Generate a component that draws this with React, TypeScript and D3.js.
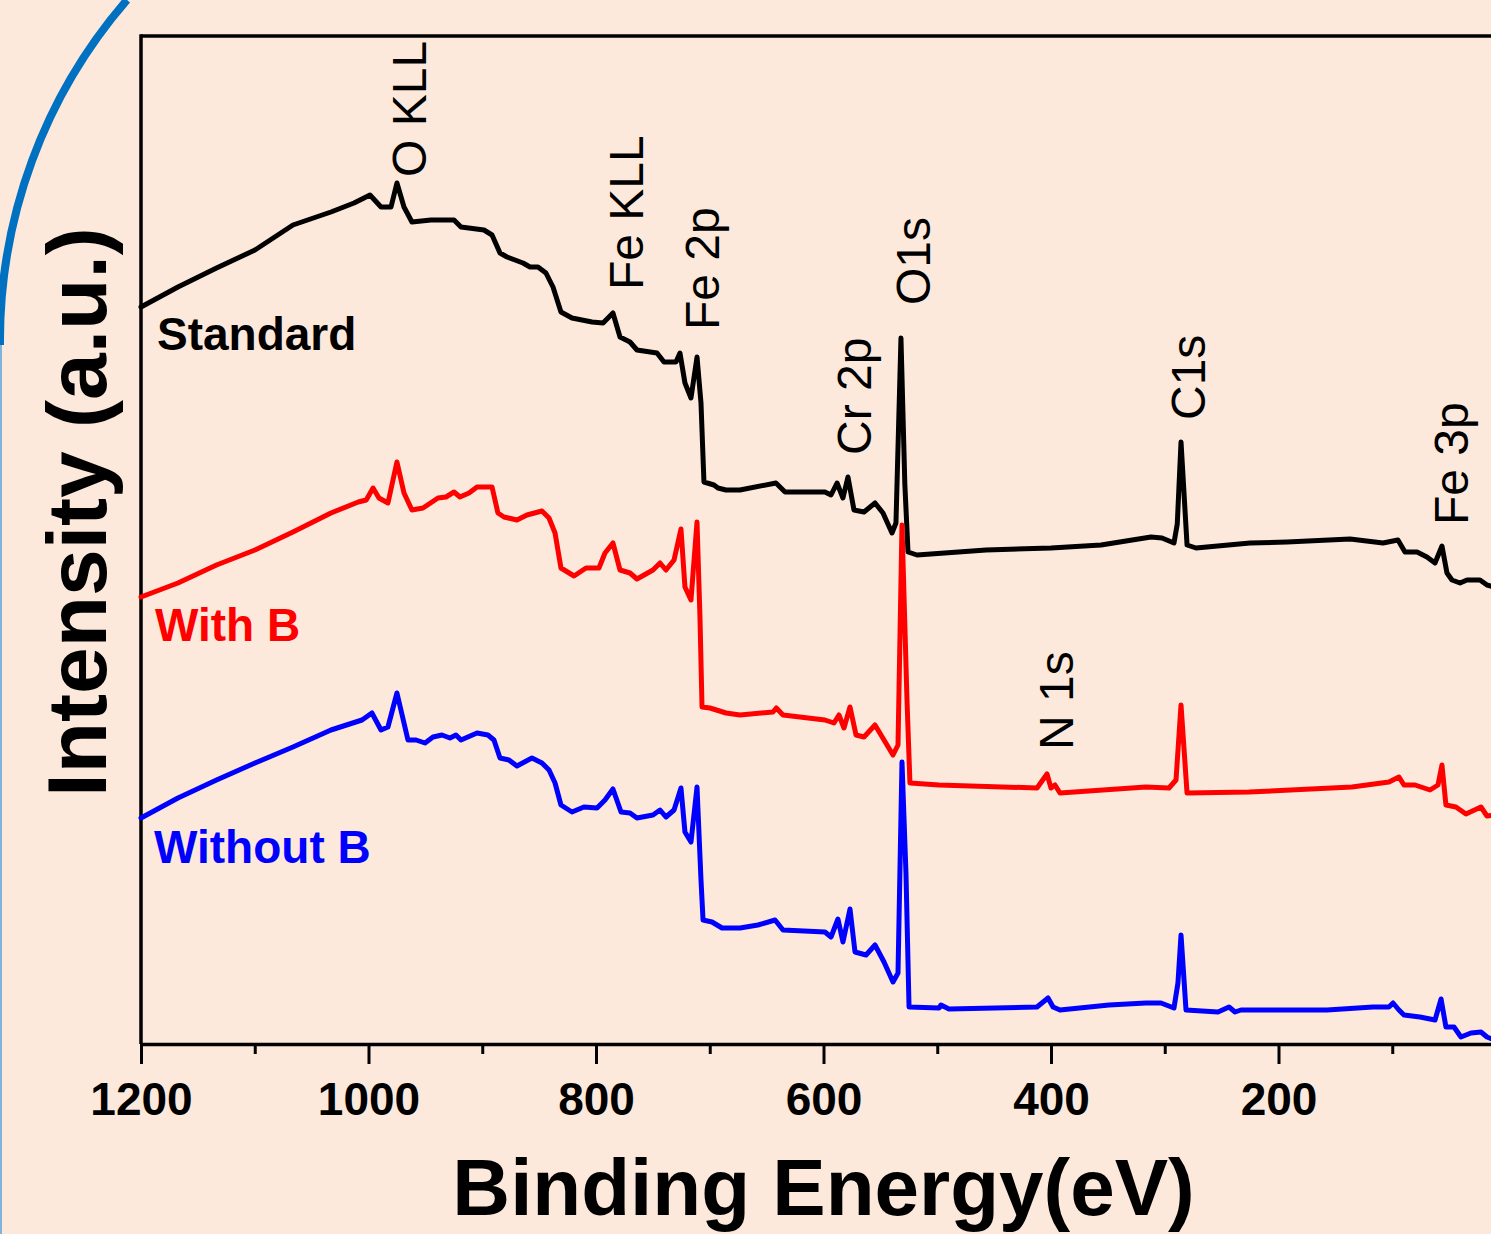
import React, { useEffect, useRef } from "react";
import * as d3 from "d3";

// Binding energy (eV) vs intensity (a.u.)
const standardSeries: [number, number][] = [
  [1200, 737], [1167.5, 757], [1133.6, 776], [1099.8, 794], [1066.4, 819], [1033, 832],
  [1012.7, 841], [998.7, 849], [989, 837], [980.2, 837], [975, 861], [968.8, 837],
  [961.8, 822], [945.1, 824], [924.8, 824], [918.7, 817], [898.5, 814], [891.4, 809],
  [884.4, 791], [878.2, 787], [864.2, 781], [858, 777], [851, 777], [844, 771],
  [837.8, 757], [830.8, 732], [821.1, 726], [803.5, 722], [793.8, 721], [785.1, 731],
  [778.9, 707], [770.1, 702], [764, 694], [746.4, 691], [740.2, 682], [729.7, 682],
  [726.2, 691], [721.8, 661], [716.5, 646], [711.2, 687], [707.7, 641], [705.1, 562],
  [696.3, 559], [692.8, 556], [685.7, 554], [673.4, 554], [641.8, 561], [633.8, 552],
  [598.7, 552], [593.4, 549], [588.1, 561], [582.9, 546], [578.5, 567], [573.2, 534],
  [564.4, 532], [554.7, 541], [547.7, 531], [539.8, 511], [536.3, 521], [531.9, 706],
  [528.5, 560], [525.7, 492], [517.8, 489], [457.1, 494], [400, 496], [356, 499],
  [312.1, 507], [302.4, 506], [291.9, 501], [289, 520], [285.7, 602], [280.4, 499],
  [272.5, 496], [225, 501], [192.5, 502], [137.1, 505], [108.1, 501], [95, 504],
  [88.8, 492], [78.2, 492], [69.5, 487], [62.4, 481], [56.3, 498], [51.9, 471],
  [47.5, 464], [40.4, 461], [34.3, 464], [22.9, 464], [16.7, 459], [10, 457],
];

const withBSeries: [number, number][] = [
  [1200, 447], [1167.5, 461], [1133.6, 479], [1099.8, 494], [1066.4, 512], [1033, 531],
  [1009, 542], [1002, 544], [996, 556], [990.8, 546], [982.9, 541], [975, 582],
  [968.8, 551], [961.8, 534], [952.1, 536], [938.9, 546], [931.9, 547], [924.8, 552],
  [919.6, 547], [911.6, 551], [904.6, 557], [891.4, 557], [886.2, 531], [880.9, 527],
  [869.5, 524], [860.7, 529], [847.5, 533], [841.3, 526], [836, 511], [830.8, 476],
  [819.3, 468], [808.8, 476], [797.4, 476], [792.1, 491], [785.1, 501], [778.9, 474],
  [770.1, 471], [764, 465], [749.9, 474], [743.7, 481], [738.5, 474], [731.4, 484],
  [725.3, 515], [721.8, 457], [716.5, 444], [711.2, 522], [708.6, 427], [706.8, 337],
  [699.8, 336], [685.7, 331], [673.4, 329], [644.4, 332], [641.5, 336], [635.6, 329],
  [598.7, 324], [590.8, 321], [586.4, 329], [582, 316], [576.7, 337], [571.4, 309],
  [564.4, 307], [554.7, 319], [546.8, 304], [538.9, 289], [534.5, 299], [531, 519],
  [526.6, 344], [524, 261], [498.5, 259], [412.3, 256], [403.5, 270], [400, 256],
  [396.5, 259], [392.1, 251], [316.5, 257], [296.3, 256], [290.1, 264], [285.7, 339],
  [280.4, 251], [226, 252], [135.4, 257], [102.9, 262], [94.1, 267], [89.7, 259],
  [80, 259], [66.8, 254], [59.8, 259], [56.3, 279], [52.8, 239], [44, 237],
  [35.2, 230], [22, 237], [16.7, 228], [10, 229],
];

const withoutBSeries: [number, number][] = [
  [1200, 226], [1167.5, 246], [1133.6, 264], [1099.8, 281], [1066.4, 297], [1033, 314],
  [1005.7, 324], [997, 331], [989, 314], [982.9, 317], [975, 351], [968.8, 321],
  [965.3, 304], [958.2, 304], [950.3, 301], [943.3, 307], [935.4, 309], [928.4, 306],
  [923.1, 309], [918.7, 304], [904.6, 311], [895, 309], [889.7, 304], [884.4, 286],
  [876.5, 284], [869.5, 278], [856.3, 286], [847.5, 281], [841.3, 274], [836, 261],
  [830.8, 239], [821.1, 232], [810.6, 237], [799.1, 236], [792.1, 244], [785.1, 255],
  [778, 232], [770.1, 231], [764, 226], [749.9, 229], [743.7, 234], [738.5, 227],
  [731.4, 234], [725.3, 256], [721.8, 212], [716.5, 202], [711.2, 257], [707.7, 164],
  [705.9, 124], [698, 122], [689.2, 116], [673.4, 116], [657.6, 119], [642.6, 124],
  [635.6, 114], [598.7, 112], [593.4, 107], [587.3, 125], [582.9, 102], [576.7, 135],
  [572.3, 92], [562.6, 89], [554.7, 99], [546.8, 82], [538.9, 62], [534.5, 71],
  [531, 282], [527.5, 171], [524.8, 37], [498.5, 36], [496.7, 39], [489.7, 35],
  [412.3, 37], [402.6, 46], [398.2, 37], [392.1, 34], [349, 39], [316.5, 41],
  [303.3, 41], [291.9, 36], [288.4, 61], [285.7, 109], [281.3, 34], [253.2, 32],
  [243.5, 37], [238.2, 32], [233, 34], [157.4, 34], [116.9, 37], [102.9, 37],
  [99.3, 41], [94.1, 34], [89.7, 29], [75.6, 27], [62.4, 24], [57.1, 45],
  [52.8, 17], [45.7, 17], [39.6, 7], [30.8, 11], [22, 12], [16.7, 7], [10, 4],
];

const majorTicks = [1200, 1000, 800, 600, 400, 200];
const minorTicks = [1100, 900, 700, 500, 300, 100];

const peakNames = ["O KLL", "Fe KLL", "Fe 2p", "Cr 2p", "O1s", "C1s", "Fe 3p", "N 1s"];
const peakEnergies = [975, 785, 711, 578, 532, 285, 56, 400];

const seriesNames = ["Standard", "With B", "Without B"];
const seriesColors = ["#000000", "#ff0000", "#0000ff"];

// layout (pixels)
const W = 1491;
const H = 1234;
const M = { left: 141, top: 36, right: 1506, bottom: 1044 };
const peakLabelLayout = [
  { dx: 29, y: 177 },
  { dx: 30, y: 290 },
  { dx: 22, y: 330 },
  { dx: 22, y: 455 },
  { dx: 29, y: 305 },
  { dx: 23, y: 420 },
  { dx: 26, y: 525 },
  { dx: 22, y: 750 },
];
const seriesLabelLayout = [
  { x: 157, y: 350 },
  { x: 155, y: 641 },
  { x: 154, y: 863 },
];

const FONT = "'Liberation Sans', Arial, Helvetica, sans-serif";

export default function App() {
  const ref = useRef<SVGSVGElement | null>(null);

  useEffect(() => {
    const svg = d3.select(ref.current);
    svg.selectAll("*").remove();

    const x = d3.scaleLinear().domain([1200, 0]).range([M.left, M.right]);
    const y = d3.scaleLinear().domain([0, 1008]).range([M.bottom, M.top]);

    svg.append("rect").attr("x", 0).attr("y", 0).attr("width", W).attr("height", H).attr("fill", "#fde9db");

    // decorative arc
    svg.append("path")
      .attr("d", "M127,0 A520,520 0 0 0 1,345 L1,1234")
      .attr("fill", "none")
      .attr("stroke", "#7fb2dc")
      .attr("stroke-width", 2);
    svg.append("path")
      .attr("d", "M127,0 A520,520 0 0 0 0,345")
      .attr("fill", "none")
      .attr("stroke", "#0070c0")
      .attr("stroke-width", 8);

    // frame
    svg.append("line").attr("x1", M.left).attr("x2", W + 20).attr("y1", M.top).attr("y2", M.top)
      .attr("stroke", "#000").attr("stroke-width", 3.5);
    svg.append("line").attr("x1", M.left).attr("x2", M.left).attr("y1", M.top - 1.75).attr("y2", M.bottom)
      .attr("stroke", "#000").attr("stroke-width", 3.5);

    // x axis
    const gMinor = svg.append("g").attr("transform", `translate(0,${M.bottom})`);
    gMinor.call(d3.axisBottom(x).tickValues(minorTicks).tickSize(10).tickSizeOuter(0).tickFormat(() => ""));
    gMinor.select(".domain").remove();
    gMinor.selectAll("line").attr("stroke", "#000").attr("stroke-width", 3);

    const gMajor = svg.append("g").attr("transform", `translate(0,${M.bottom})`);
    gMajor.call(d3.axisBottom(x).tickValues(majorTicks).tickSize(20).tickSizeOuter(0).tickFormat(d3.format("d")));
    gMajor.select(".domain").attr("stroke", "#000").attr("stroke-width", 3.5);
    gMajor.selectAll(".tick line").attr("stroke", "#000").attr("stroke-width", 3);
    gMajor.selectAll(".tick text")
      .attr("y", 71).attr("dy", 0)
      .attr("fill", "#000")
      .style("font-family", FONT)
      .style("font-size", "46px")
      .style("font-weight", "bold");

    // lines
    const line = d3.line<[number, number]>().x((d) => x(d[0])).y((d) => y(d[1])).curve(d3.curveLinear);
    const allSeries = [standardSeries, withBSeries, withoutBSeries];
    allSeries.forEach((s, i) => {
      svg.append("path")
        .attr("d", line(s) as string)
        .attr("fill", "none")
        .attr("stroke", seriesColors[i])
        .attr("stroke-width", 5)
        .attr("stroke-linejoin", "round")
        .attr("stroke-linecap", "round");
    });

    // series labels
    seriesNames.forEach((n, i) => {
      svg.append("text")
        .attr("x", seriesLabelLayout[i].x).attr("y", seriesLabelLayout[i].y)
        .attr("fill", seriesColors[i])
        .style("font-family", FONT).style("font-size", "46px").style("font-weight", "bold")
        .text(n);
    });

    // peak labels
    peakNames.forEach((n, i) => {
      const px = x(peakEnergies[i]) + peakLabelLayout[i].dx;
      svg.append("text")
        .attr("transform", `translate(${px},${peakLabelLayout[i].y}) rotate(-90)`)
        .attr("fill", "#000")
        .style("font-family", FONT).style("font-size", "48px")
        .text(n);
    });

    // axis titles
    svg.append("text")
      .attr("x", (M.left + M.right) / 2).attr("y", 1215)
      .attr("text-anchor", "middle")
      .attr("fill", "#000")
      .style("font-family", FONT).style("font-size", "80px").style("font-weight", "bold")
      .text("Binding Energy(eV)");
    svg.append("text")
      .attr("transform", `translate(106,512) rotate(-90)`)
      .attr("text-anchor", "middle")
      .attr("fill", "#000")
      .style("font-family", FONT).style("font-size", "84px").style("font-weight", "bold")
      .text("Intensity (a.u.)");
  }, []);

  return (
    <div style={{ position: "absolute", left: 0, top: 0, width: W, height: H, overflow: "hidden" }}>
      <svg ref={ref} width={W} height={H} style={{ display: "block" }} />
    </div>
  );
}
